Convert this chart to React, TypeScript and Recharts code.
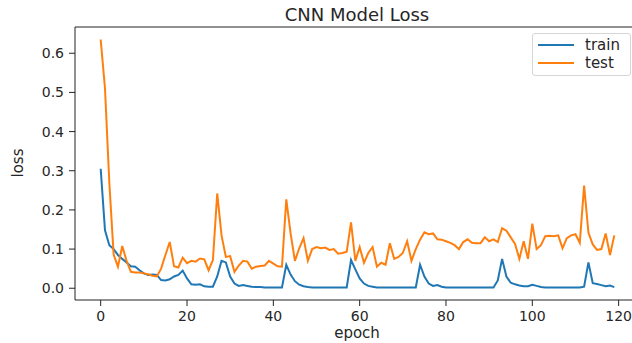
import { LineChart, Line, XAxis, YAxis, Legend, ReferenceLine } from 'recharts';

const trainLoss = [
  0.305, 0.148, 0.11, 0.1, 0.085, 0.075, 0.066, 0.056, 0.055, 0.046,
  0.038, 0.034, 0.035, 0.034, 0.021, 0.02, 0.023, 0.03, 0.034, 0.045,
  0.025, 0.01, 0.009, 0.01, 0.005, 0.004, 0.004, 0.03, 0.07, 0.066,
  0.03, 0.012, 0.006, 0.008, 0.006, 0.004, 0.003, 0.003, 0.002, 0.002,
  0.002, 0.002, 0.002, 0.06, 0.035, 0.018, 0.009, 0.005, 0.003, 0.002,
  0.002, 0.002, 0.002, 0.002, 0.002, 0.002, 0.002, 0.002, 0.072, 0.048,
  0.025, 0.012, 0.006, 0.004, 0.002, 0.002, 0.002, 0.002, 0.002, 0.002,
  0.002, 0.002, 0.002, 0.002, 0.06, 0.03, 0.012, 0.006, 0.008, 0.004,
  0.002, 0.002, 0.002, 0.002, 0.002, 0.002, 0.002, 0.002, 0.002, 0.002,
  0.002, 0.002, 0.02, 0.075, 0.03, 0.014, 0.01, 0.007, 0.005, 0.005,
  0.009, 0.006, 0.003, 0.002, 0.002, 0.002, 0.002, 0.002, 0.002, 0.002,
  0.002, 0.002, 0.004, 0.066, 0.013, 0.011, 0.008, 0.005, 0.007, 0.003,
];

const testLoss = [
  0.635, 0.51, 0.27, 0.086, 0.055, 0.108, 0.07, 0.042, 0.04, 0.04,
  0.038, 0.036, 0.032, 0.03, 0.05, 0.085, 0.118, 0.056, 0.053, 0.078,
  0.064, 0.07, 0.068, 0.076, 0.074, 0.046, 0.072, 0.242, 0.135, 0.08,
  0.082, 0.042, 0.058, 0.07, 0.068, 0.05, 0.055, 0.057, 0.058, 0.07,
  0.063, 0.056, 0.055, 0.227, 0.14, 0.07, 0.102, 0.128, 0.07, 0.1,
  0.105, 0.102, 0.104, 0.098, 0.1, 0.088, 0.09, 0.093, 0.168, 0.07,
  0.105, 0.065, 0.09, 0.105, 0.055, 0.065, 0.06, 0.115, 0.075, 0.08,
  0.09, 0.12, 0.07, 0.1, 0.124, 0.143, 0.138, 0.14, 0.125, 0.124,
  0.12, 0.116, 0.11, 0.1, 0.118, 0.125, 0.116, 0.115, 0.115, 0.13,
  0.12, 0.125, 0.118, 0.153, 0.147, 0.13, 0.113, 0.075, 0.12, 0.075,
  0.165, 0.1, 0.11, 0.133, 0.134, 0.133, 0.135, 0.102, 0.128, 0.135,
  0.138, 0.116, 0.262, 0.142, 0.112, 0.098, 0.1, 0.14, 0.085, 0.135,
];

const epochs = testLoss.map((_, i) => i);
const xTicks = [0, 20, 40, 60, 80, 100, 120];
const yTicks = [0, 0.1, 0.2, 0.3, 0.4, 0.5, 0.6];
const yTop = 0.667;

const data = epochs.map((epoch, i) => ({ epoch, train: trainLoss[i], test: testLoss[i] }));

const font = '"DejaVu Sans", sans-serif';
const textColor = '#262626';
const tickStyle = { fontSize: 14, fill: textColor, fontFamily: font };

function LegendBox() {
  const items = [
    { label: 'train', color: '#1f77b4' },
    { label: 'test', color: '#ff7f0e' },
  ];
  return (
    <div
      style={{
        border: '1px solid #d6d6d6',
        borderRadius: 3,
        background: '#fff',
        padding: '2px 8px 3px 5px',
        fontFamily: font,
        fontSize: 15,
        color: textColor,
        width: 84,
      }}
    >
      {items.map((it) => (
        <div key={it.label} style={{ display: 'flex', alignItems: 'center', height: 18 }}>
          <svg width={36} height={4} style={{ marginRight: 11 }}>
            <line x1={0} y1={2} x2={36} y2={2} stroke={it.color} strokeWidth={2} />
          </svg>
          <span>{it.label}</span>
        </div>
      ))}
    </div>
  );
}

export default function App() {
  return (
    <div style={{ position: 'fixed', left: 0, top: 0, width: 632, height: 343, overflow: 'hidden', background: '#fff' }}>
      <LineChart width={660} height={343} data={data} margin={{ top: 27, right: 20, bottom: 0, left: 0 }}>
        <XAxis
          dataKey="epoch"
          type="number"
          domain={[-5.95, 124.95]}
          allowDataOverflow
          ticks={xTicks}
          tick={tickStyle}
          tickSize={6}
          tickMargin={5}
          height={43}
          stroke="#222"
        />
        <YAxis
          type="number"
          domain={[-0.03, yTop]}
          allowDataOverflow
          ticks={yTicks}
          tickFormatter={(v: number) => v.toFixed(1)}
          tick={tickStyle}
          tickSize={6}
          tickMargin={5}
          width={75}
          stroke="#222"
        />
        <ReferenceLine y={yTop} stroke="#222" strokeWidth={1} />
        <Legend
          layout="horizontal"
          verticalAlign="middle"
          align="center"
          content={() => <LegendBox />}
          wrapperStyle={{ position: 'absolute', top: 33, left: 532, width: 'auto', height: 'auto' }}
        />
        <Line type="linear" dataKey="train" name="train" stroke="#1f77b4" strokeWidth={2} dot={false} isAnimationActive={false} />
        <Line type="linear" dataKey="test" name="test" stroke="#ff7f0e" strokeWidth={2} dot={false} isAnimationActive={false} />
      </LineChart>
      <div style={{ position: 'absolute', left: 357, top: 4, transform: 'translateX(-50%)', fontFamily: font, fontSize: 18, color: textColor, whiteSpace: 'nowrap' }}>
        CNN Model Loss
      </div>
      <div style={{ position: 'absolute', left: 357, top: 324, transform: 'translateX(-50%)', fontFamily: font, fontSize: 15, color: textColor }}>
        epoch
      </div>
      <div style={{ position: 'absolute', left: 18, top: 163, transform: 'translate(-50%, -50%) rotate(-90deg)', fontFamily: font, fontSize: 15, color: textColor }}>
        loss
      </div>
    </div>
  );
}
